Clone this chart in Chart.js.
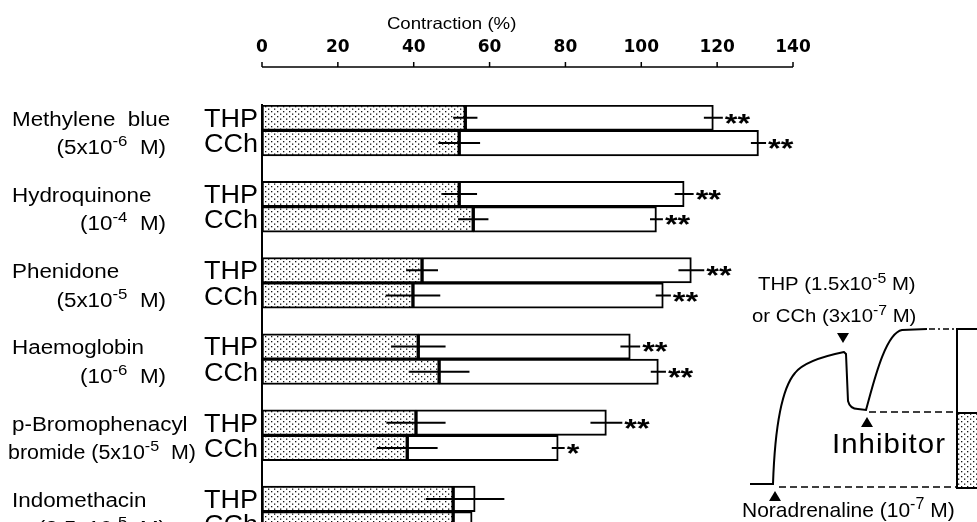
<!DOCTYPE html>
<html>
<head>
<meta charset="utf-8">
<script src="https://cdn.jsdelivr.net/npm/chart.js@4.4.1/dist/chart.umd.min.js"></script>
<style>
  html, body { margin: 0; padding: 0; background: #fff; overflow: hidden; width: 977px; height: 522px; }
  canvas { display: block; }
</style>
</head>
<body>
<canvas id="chart" width="977" height="545"></canvas>
<script>
'use strict';

// inhibitors (row labels, first and second line)
const compounds = ['Methylene  blue', 'Hydroquinone', 'Phenidone', 'Haemoglobin', 'p-Bromophenacyl', 'Indomethacin'];
const doseText = ['(5x10', '(10', '(5x10', '(10', 'bromide (5x10', '(2.5x10'];
const doseExp = ['-6', '-4', '-5', '-6', '-5', '-5'];
const agonists = ['THP', 'CCh'];
const tickValues = [0, 20, 40, 60, 80, 100, 120, 140];

// one value per bar, in order THP, CCh for each inhibitor
const inhibitorValues = [53.6, 52.0, 52.0, 55.7, 42.2, 39.8, 41.2, 46.7, 40.6, 38.3, 50.4, 50.4];
const inhibitorErrors = [3.2, 5.5, 4.7, 4.0, 4.2, 7.2, 7.2, 8.0, 7.8, 8.0, 7.2, 3.0];
const totalValues = [119.0, 130.9, 111.3, 104.0, 113.2, 105.8, 97.1, 104.5, 90.8, 78.1, 56.2, 55.4];
const totalErrors = [2.5, 2.0, 2.5, 1.7, 3.4, 2.0, 2.6, 2.0, 4.2, 1.7, 7.7, 3.0];
const significance = ['**', '**', '**', '**', '**', '**', '**', '**', '**', '*', '', ''];

const FONT = '"Liberation Sans", Arial, sans-serif';

// category slots: THP, CCh, gap, THP, CCh, gap ...
const labels = [];
const rowSlot = [];
compounds.forEach((c, g) => {
  agonists.forEach(a => { rowSlot.push(labels.length); labels.push(a); });
  if (g < compounds.length - 1) labels.push('');
});
function toSlots(values) {
  const out = labels.map(() => null);
  rowSlot.forEach((s, i) => { out[s] = values[i]; });
  return out;
}

function makeStipple(ctx) {
  const p = document.createElement('canvas');
  p.width = 6; p.height = 5;
  const c = p.getContext('2d');
  c.fillStyle = '#fff';
  c.fillRect(0, 0, 6, 5);
  c.fillStyle = '#111';
  c.fillRect(1, 1, 1.3, 1.3);
  c.fillRect(4, 3.5, 1.3, 1.3);
  return ctx.createPattern(p, 'repeat');
}

const canvasElem = document.getElementById('chart');
const stipple = makeStipple(canvasElem.getContext('2d'));

// text with horizontal stretch (the scan is a little wide)
function txt(ctx, s, x, y, font, sx, align) {
  ctx.font = font;
  const w = ctx.measureText(s).width * sx;
  let x0 = x;
  if (align === 'right') x0 = x - w;
  if (align === 'center') x0 = x - w / 2;
  ctx.save();
  ctx.translate(x0, y);
  ctx.scale(sx, 1);
  ctx.textAlign = 'left';
  ctx.textBaseline = 'alphabetic';
  ctx.fillText(s, 0, 0);
  ctx.restore();
  return w;
}
function richWidth(ctx, parts, size, sx) {
  let w = 0;
  parts.forEach(p => {
    ctx.font = (p.sup ? Math.round(size * 0.75) : size) + 'px ' + FONT;
    w += ctx.measureText(p.t).width * sx;
  });
  return w;
}
function rich(ctx, parts, x, y, size, sx, align) {
  let cx = x;
  const w = richWidth(ctx, parts, size, sx);
  if (align === 'right') cx = x - w;
  parts.forEach(p => {
    const f = (p.sup ? Math.round(size * 0.75) : size) + 'px ' + FONT;
    cx += txt(ctx, p.t, cx, p.sup ? y - size * 0.4 : y, f, sx, 'left');
  });
  return w;
}

function triangle(ctx, cx, cy, up) {
  ctx.beginPath();
  if (up) {
    ctx.moveTo(cx - 6, cy + 5); ctx.lineTo(cx + 6, cy + 5); ctx.lineTo(cx, cy - 5);
  } else {
    ctx.moveTo(cx - 6, cy - 5); ctx.lineTo(cx + 6, cy - 5); ctx.lineTo(cx, cy + 5);
  }
  ctx.closePath();
  ctx.fill();
}

const figurePlugin = {
  id: 'figure',
  afterDraw(chart) {
    const ctx = chart.ctx;
    const x = chart.scales.x;
    const y = chart.scales.y;
    ctx.save();
    ctx.fillStyle = '#000';
    ctx.strokeStyle = '#000';

    // axis title and tick labels on top
    txt(ctx, 'Contraction (%)', x.getPixelForValue(50), 29, '16.5px ' + FONT, 1.13, 'center');
    tickValues.forEach(v => {
      ctx.font = 'bold 17px "DejaVu Sans"';
      ctx.textAlign = 'center';
      ctx.textBaseline = 'alphabetic';
      ctx.fillText(String(v), x.getPixelForValue(v), 52);
    });
    ctx.lineWidth = 1.5;
    ctx.beginPath();
    ctx.moveTo(x.getPixelForValue(0), 67);
    ctx.lineTo(x.getPixelForValue(140), 67);
    tickValues.forEach(v => {
      const px = x.getPixelForValue(v);
      ctx.moveTo(px, 67);
      ctx.lineTo(px, 62);
    });
    ctx.stroke();

    // THP / CCh labels
    labels.forEach((l, i) => {
      if (!l) return;
      txt(ctx, l, 258, y.getPixelForValue(i) + 9, '25px ' + FONT, 1.08, 'right');
    });

    // inhibitor names
    compounds.forEach((c, g) => {
      const y1 = y.getPixelForValue(rowSlot[g * 2]) + 8;
      const y2 = y.getPixelForValue(rowSlot[g * 2 + 1]) + 11;
      txt(ctx, c, 12, y1, '20px ' + FONT, 1.12, 'left');
      const parts = [{ t: doseText[g] }, { t: doseExp[g], sup: true }, { t: '  M)' }];
      const w = richWidth(ctx, parts, 20, 1.12);
      if (w > 160) {
        // long line: squeeze it so it ends before the CCh label
        rich(ctx, parts, 8, y2, 20, 1.12 * 188 / w, 'left');
      } else {
        rich(ctx, parts, 166, y2, 20, 1.12, 'right');
      }
    });

    // error bars and significance marks
    ctx.lineWidth = 2;
    rowSlot.forEach((s, i) => {
      const yc = y.getPixelForValue(s);
      ctx.beginPath();
      ctx.moveTo(x.getPixelForValue(inhibitorValues[i] - inhibitorErrors[i]), yc);
      ctx.lineTo(x.getPixelForValue(inhibitorValues[i] + inhibitorErrors[i]), yc);
      ctx.moveTo(x.getPixelForValue(totalValues[i] - totalErrors[i]), yc);
      ctx.lineTo(x.getPixelForValue(totalValues[i] + totalErrors[i]), yc);
      ctx.stroke();
      if (significance[i]) {
        txt(ctx, significance[i], x.getPixelForValue(totalValues[i] + totalErrors[i]) + 2, yc + 14,
          'bold 25px ' + FONT, 1.3, 'left');
      }
    });

    // schematic trace (inset)
    ctx.lineWidth = 2;
    ctx.beginPath();
    ctx.moveTo(750, 484);
    ctx.lineTo(773, 484);
    ctx.quadraticCurveTo(776, 395, 795, 373);
    ctx.quadraticCurveTo(805, 360, 844, 352);
    ctx.lineTo(846, 354);
    ctx.lineTo(848, 401);
    ctx.quadraticCurveTo(850, 409, 858, 409);
    ctx.lineTo(866, 410);
    ctx.bezierCurveTo(873, 385, 885, 333, 902, 330);
    ctx.lineTo(927, 329);
    ctx.stroke();

    ctx.fillStyle = stipple;
    ctx.fillRect(958, 413, 30, 75);
    ctx.fillStyle = '#000';
    ctx.beginPath();
    ctx.moveTo(990, 329); ctx.lineTo(957, 329); ctx.lineTo(957, 488); ctx.lineTo(990, 488);
    ctx.moveTo(957, 413); ctx.lineTo(990, 413);
    ctx.stroke();

    ctx.lineWidth = 1.5;
    ctx.setLineDash([6, 3, 2, 3]);
    ctx.beginPath(); ctx.moveTo(929, 329); ctx.lineTo(956, 329); ctx.stroke();
    ctx.setLineDash([7, 4]);
    ctx.beginPath();
    ctx.moveTo(869, 412); ctx.lineTo(956, 412);
    ctx.moveTo(779, 487); ctx.lineTo(956, 487);
    ctx.stroke();
    ctx.setLineDash([]);

    triangle(ctx, 843, 338, false);
    triangle(ctx, 867, 422, true);
    triangle(ctx, 775, 496, true);

    rich(ctx, [{ t: 'THP (1.5x10' }, { t: '-5', sup: true }, { t: ' M)' }], 758, 290, 18, 1.13, 'left');
    rich(ctx, [{ t: 'or CCh (3x10' }, { t: '-7', sup: true }, { t: ' M)' }], 752, 322, 18, 1.13, 'left');
    ctx.save();
    ctx.letterSpacing = '1px';
    txt(ctx, 'Inhibitor', 832, 453, '28px ' + FONT, 1.05, 'left');
    ctx.restore();
    rich(ctx, [{ t: 'Noradrenaline (10' }, { t: '-7', sup: true }, { t: ' M)' }], 742, 517, 21, 1.0, 'left');

    ctx.restore();
  }
};

const chartConfig = {
  type: 'bar',
  data: {
    labels: labels,
    datasets: [
      {
        label: 'Inhibitor',
        data: toSlots(inhibitorValues),
        backgroundColor: stipple,
        borderColor: '#000',
        borderWidth: 2,
        borderSkipped: false,
        barPercentage: 1,
        categoryPercentage: 1,
      },
      {
        label: 'Agonist',
        data: toSlots(totalValues.map((t, i) => t - inhibitorValues[i])),
        backgroundColor: '#fff',
        borderColor: '#000',
        borderWidth: 2,
        borderSkipped: false,
        barPercentage: 1,
        categoryPercentage: 1,
      },
    ],
  },
  options: {
    indexAxis: 'y',
    responsive: false,
    animation: false,
    devicePixelRatio: 1,
    layout: { padding: { left: 0, right: 184, top: 0, bottom: 8 } },
    plugins: { legend: { display: false }, tooltip: { enabled: false } },
    scales: {
      x: {
        position: 'top',
        stacked: true,
        min: 0,
        max: 140,
        ticks: { display: false, stepSize: 20 },
        grid: { display: false },
        border: { display: false },
        afterFit: s => { s.height = 105; },
      },
      y: {
        stacked: true,
        ticks: { display: false },
        grid: { display: false },
        border: { display: true, color: '#000', width: 2 },
        afterFit: s => { s.width = 262; },
      },
    },
  },
  plugins: [figurePlugin],
};

const myChart = new Chart(canvasElem, chartConfig);
</script>
</body>
</html>
